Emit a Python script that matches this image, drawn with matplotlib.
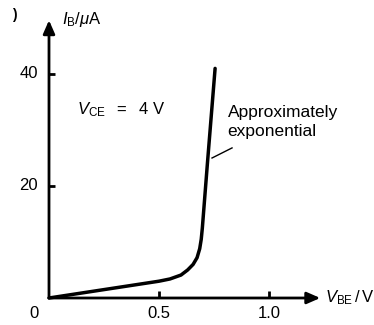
import matplotlib
matplotlib.use("Agg")
import matplotlib.pyplot as plt
import numpy as np

# Data
v_be = [0.0, 0.1, 0.2, 0.3, 0.4, 0.5, 0.55, 0.6, 0.63, 0.655, 0.673, 0.685, 0.692, 0.697, 0.72, 0.755]
i_b = [0.0, 0.6, 1.2, 1.8, 2.4, 3.0, 3.4, 4.1, 5.0, 6.0, 7.2, 8.8, 10.5, 12.5, 24.0, 41.0]
x_ticks = [0.5, 1.0]
x_tick_labels = ["0.5", "1.0"]
y_ticks = [20, 40]
y_tick_labels = ["20", "40"]

plt.rcParams['font.family'] = ['Liberation Sans', 'DejaVu Sans']
plt.rcParams['mathtext.fontset'] = 'custom'
plt.rcParams['mathtext.rm'] = 'Liberation Sans'
plt.rcParams['mathtext.it'] = 'Liberation Sans:italic'

fig = plt.figure(figsize=(3.74, 3.25), dpi=100)
ax = fig.add_axes([0, 0, 1, 1])
# pixel mapping: x_px = 49 + V*220 ; y_px = 298 - I*5.6
ax.set_xlim(-49 / 220, 325 / 220)
ax.set_ylim(-27 / 5.6, 298 / 5.6)
ax.axis('off')

# axes with arrows
ax.annotate('', xy=(0, 49.6), xytext=(0, 0),
            arrowprops=dict(arrowstyle='-|>,head_length=0.8,head_width=0.35', lw=2.0, color='black',
                            shrinkA=0, shrinkB=0))
ax.annotate('', xy=(1.233, 0), xytext=(0, 0),
            arrowprops=dict(arrowstyle='-|>,head_length=0.8,head_width=0.35', lw=2.0, color='black',
                            shrinkA=0, shrinkB=0))

# ticks
for t in y_ticks:
    ax.plot([0, 0.025], [t, t], color='black', lw=2.0, solid_capstyle='butt')
for t in x_ticks:
    ax.plot([t, t], [0, 1.2], color='black', lw=2.0, solid_capstyle='butt')

fs = 12
for t, lab in zip(y_ticks, y_tick_labels):
    ax.text(-0.093, t, lab, ha='center', va='center', fontsize=fs)
for t, lab in zip(x_ticks, x_tick_labels):
    ax.text(t, -2.8, lab, ha='center', va='center', fontsize=fs)
ax.text(-0.068, -2.8, "0", ha='center', va='center', fontsize=fs)

# curve
ax.plot(v_be, i_b, color='black', lw=2.5, solid_capstyle='round', solid_joinstyle='round')

# labels
ax.text(0.058, 49.8, r'$I_{\mathrm{B}}/\mu\mathrm{A}$', ha='left', va='center', fontsize=fs)
ax.text(1.255, 0, r'$V_{\mathrm{BE}}\,/\,\mathrm{V}$', ha='left', va='center', fontsize=fs)
ax.text(0.128, 33.6, r'$V_{\mathrm{CE}}\ \ =\ \ 4\ \mathrm{V}$', ha='left', va='center', fontsize=fs)
ax.text(-0.17, 50.5, ")", ha='left', va='center', fontsize=10, fontweight='bold')

ax.text(0.812, 33.2, "Approximately", ha='left', va='center', fontsize=12.5)
ax.text(0.812, 29.7, "exponential", ha='left', va='center', fontsize=12.5)
ax.plot([0.741, 0.832], [25.0, 26.8], color='black', lw=1.0)

fig.savefig("out.png", dpi=100)
